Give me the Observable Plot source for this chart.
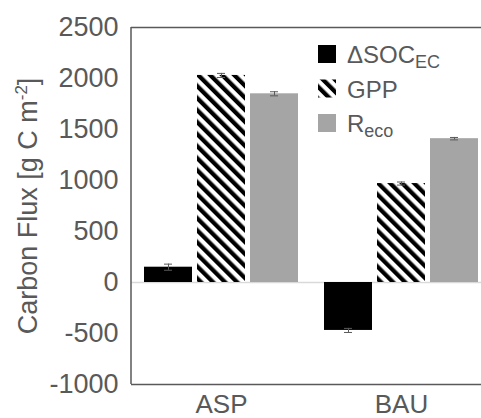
<!DOCTYPE html>
<html><head><meta charset="utf-8">
<script src="https://cdn.jsdelivr.net/npm/d3@7"></script>
<script src="https://cdn.jsdelivr.net/npm/@observablehq/plot@0.6"></script>
<style>body{margin:0;background:#fff}</style>
</head><body><div id="chart"></div>
<script>
const groups = ["ASP", "BAU"];
const seriesKeys = ["SOC", "GPP", "Reco"];
const seriesBase = ["ΔSOC", "GPP", "R"];
const seriesSub = ["EC", "", "eco"];
const aspValues = [150, 2030, 1850];
const bauValues = [-470, 970, 1410];
const aspErrors = [30, 20, 20];
const bauErrors = [20, 15, 12];
const yTicks = [-1000, -500, 0, 500, 1000, 1500, 2000, 2500];
const yLabel = "Carbon Flux [g C m-2]";

const fills = ["#000000", "url(#hatch)", "#a5a5a5"];
const textColor = "#595959";
const font = "'Liberation Sans', Arial, sans-serif";

const valueRows = [aspValues, bauValues];
const errRows = [aspErrors, bauErrors];
const data = groups.flatMap((g, gi) => seriesKeys.map((s, si) => ({
  group: g, series: s, value: valueRows[gi][si], err: errRows[gi][si]
})));

const plot = Plot.plot({
  width: 481, height: 418,
  marginLeft: 131, marginRight: -10, marginTop: 27, marginBottom: 34,
  style: {fontFamily: font, background: "#fff", overflow: "visible"},
  fx: {domain: groups, padding: 0, label: null},
  x: {domain: seriesKeys, paddingInner: 0.103, paddingOuter: 0.2335, axis: null},
  y: {domain: [-1000, 2500], label: null},
  color: {domain: seriesKeys, range: fills},
  marks: [
    Plot.ruleY([0], {stroke: "#d9d9d9", strokeWidth: 1.5}),
    Plot.barY(data, {fx: "group", x: "series", y: "value", fill: "series"}),
    Plot.ruleX(data, {fx: "group", x: "series", y1: d => d.value - d.err, y2: d => d.value + d.err, stroke: textColor, strokeWidth: 1}),
    Plot.tickY(data, {fx: "group", x: "series", y: d => d.value - d.err, insetLeft: 20, insetRight: 20, stroke: textColor, strokeWidth: 1}),
    Plot.tickY(data, {fx: "group", x: "series", y: d => d.value + d.err, insetLeft: 20, insetRight: 20, stroke: textColor, strokeWidth: 1}),
    Plot.ruleY([yTicks[0], yTicks[yTicks.length - 1]], {stroke: textColor, strokeWidth: 1.5}),
    Plot.axisY({ticks: yTicks, tickFormat: d => String(d), tickSize: 0, tickPadding: 13, fontSize: 27, color: textColor,
      label: yLabel, labelAnchor: "center", labelOffset: 114, labelArrow: "none"}),
    Plot.axisFx({anchor: "bottom", tickSize: 0, tickPadding: 10, fontSize: 26, color: textColor, label: null})
  ]
});

const svg = d3.select(plot);
const defs = svg.insert("defs", ":first-child");
const pat = defs.append("pattern").attr("id", "hatch").attr("patternUnits", "userSpaceOnUse")
  .attr("width", 8.5).attr("height", 8.5).attr("patternTransform", "rotate(-45)");
pat.append("rect").attr("width", 8.5).attr("height", 8.5).attr("fill", "#fff");
pat.append("rect").attr("width", 4.25).attr("height", 8.5).attr("fill", "#000");

// left border (y axis line)
const ys = plot.scale("y");
svg.append("line").attr("x1", 131).attr("x2", 131)
  .attr("y1", ys.apply(yTicks[yTicks.length - 1])).attr("y2", ys.apply(yTicks[0]))
  .attr("stroke", textColor).attr("stroke-width", 1.5);

// superscript in y label
svg.selectAll("text").filter(function () { return this.textContent === yLabel; }).each(function () {
  const t = d3.select(this);
  t.text(null);
  t.append("tspan").text("Carbon Flux [g C m");
  t.append("tspan").attr("font-size", 17).attr("dy", -10).text("-2");
  t.append("tspan").attr("dy", 10).text("]");
  t.attr("font-size", 27);
});

// legend
const lg = svg.append("g").attr("font-family", font).attr("fill", textColor).attr("text-anchor", "start");
seriesKeys.forEach((s, i) => {
  const y0 = 45 + i * 34.5;
  lg.append("rect").attr("x", 318).attr("y", y0).attr("width", 18).attr("height", 18).attr("fill", fills[i]);
  const t = lg.append("text").attr("x", 347).attr("y", y0 + 18).attr("font-size", 24).attr("text-anchor", "start");
  t.append("tspan").text(seriesBase[i]);
  if (seriesSub[i]) t.append("tspan").attr("font-size", 18).attr("dy", 5).text(seriesSub[i]);
});

document.getElementById("chart").appendChild(plot);
</script>
</body></html>
